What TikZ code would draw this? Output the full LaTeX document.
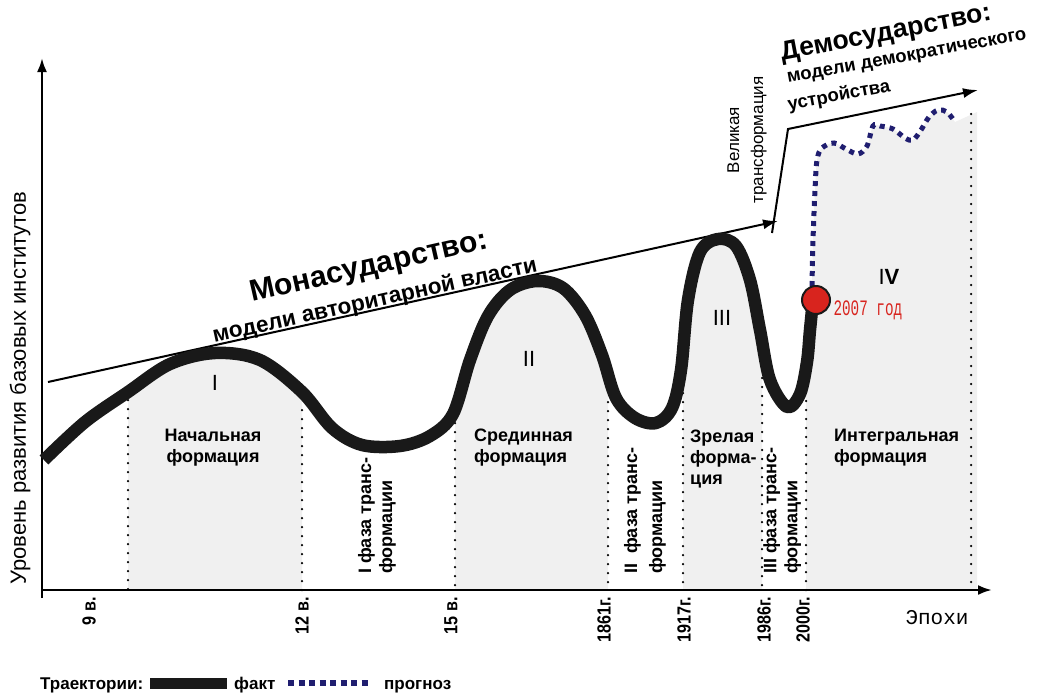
\documentclass[tikz,border=0pt]{standalone}
\usepackage{fontspec}
\setmainfont{Liberation Sans}
\newfontfamily\courfont{Liberation Mono}
\newfontfamily\yearfont[FakeStretch=0.65]{Liberation Mono}
\newfontfamily\narrowfont[FakeStretch=0.85]{Liberation Sans}
\usetikzlibrary{arrows.meta}

\definecolor{navy}{RGB}{32,30,112}
\definecolor{dotred}{RGB}{216,36,30}
\definecolor{formgray}{RGB}{240,240,240}
\newcommand{\sz}[2]{\fontsize{#1}{#2}\selectfont}
% trajectories
\newcommand{\factcurve}{-- plot[smooth, tension=0.55] coordinates {(44,460) (85,422) (128,392) (170,364) (215,353) (260,360) (302,392) (332,428) (362,445) (400,446) (430,436) (453,414) (470,360) (488,316) (510,290) (537,281) (563,288) (585,315) (602,355) (616,398) (635,418) (656,423) (672,408) (681,370) (688,300) (700,252) (718,239) (736,246) (750,280) (760,330) (770,380) (787,407) (800,394) (807,362) (810,330) (813,300)}}
\newcommand{\prognozcurve}{-- plot[smooth, tension=0.55] coordinates {(812,286) (813,240) (815,190) (817,160) (822,148) (834,143) (846,149) (858,154) (867,146) (873,126) (880,126) (893,129) (905,138) (913,140) (921,130) (929,117) (938,110) (947,112) (955,122)}}

\begin{document}
\begin{tikzpicture}[x=1pt, y=-1pt,
    axis/.style={line width=2.5pt, -{Latex[length=14pt,width=10pt]}},
    trend/.style={line width=2pt, -{Latex[length=15pt,width=10pt]}},
    fact/.style={line width=12.5pt, line cap=butt, line join=round, black!90},
    prognoz/.style={line width=5pt, dash pattern=on 5pt off 5pt, navy},
    epoch/.style={line width=2.5pt, line cap=round, dash pattern=on 0pt off 9pt},
    formation/.style={font=\bfseries\sz{18}{21}, inner sep=0pt},
    phase/.style={formation, rotate=90, align=left, anchor=north west},
    tick/.style={font=\narrowfont\bfseries\sz{19}{20}, rotate=90, anchor=east, inner sep=0pt},
    numeral/.style={font=\sz{22}{24}, inner sep=0pt},
    legendtext/.style={font=\bfseries\sz{17}{20}, anchor=base west, inner sep=0pt}
]
    \useasboundingbox (0,0) rectangle (1042,694);

    % shaded formations
    \begin{scope}
        \clip (128,0) rectangle (302,590) (455,0) rectangle (608,590) (683,0) rectangle (762,590);
        \fill[formgray] (44,590) \factcurve -- (813,590) -- cycle;
    \end{scope}
    \fill[formgray] (806,590) -- (806,310) \prognozcurve -- (977,112) -- (977,590) -- cycle;

    % epoch boundaries
    \draw[epoch] (128,400) -- (128,590);
    \draw[epoch] (302,410) -- (302,590);
    \draw[epoch] (455,414) -- (455,590);
    \draw[epoch] (608,402) -- (608,590);
    \draw[epoch] (683,393) -- (683,590);
    \draw[epoch] (762,378) -- (762,590);
    \draw[epoch] (806,392) -- (806,590);
    \draw[epoch] (971,114) -- (971,590);

    % axes
    \coordinate (origin) at (42,590);
    \coordinate (ybottom) at (42,598);
    \coordinate (ytop) at (42,58);
    \coordinate (xend) at (992,590);
    \draw[axis] (ybottom) -- (ytop);
    \draw[axis] (origin) -- (xend);

    % trends
    \coordinate (mono-start) at (48,382);
    \coordinate (mono-end) at (778,221);
    \coordinate (demo-start) at (772,233);
    \coordinate (demo-bend) at (788,129);
    \coordinate (demo-end) at (978,90);
    \draw[trend] (mono-start) -- (mono-end);
    \draw[trend] (demo-start) -- (demo-bend) -- (demo-end);

    % trajectories
    \draw[fact] (44,460) \factcurve;
    \draw[prognoz] (812,286) \prognozcurve;
    \node[circle, fill=dotred, draw=black!90, line width=2pt, minimum size=28pt, inner sep=0pt] (now) at (816,300) {};
    \node[anchor=west, text=dotred, font=\yearfont\sz{22}{24}] (nowlabel) at (830,310) {2007 год};

    % numerals
    \node[numeral] (n1) at (215,383) {I};
    \node[numeral] (n2) at (529,359) {II};
    \node[numeral] (n3) at (722,318) {III};
    \node[numeral] (n4) at (889,277) {I\textbf{V}};

    % formations and phases
    \node[formation, align=center] (f1) at (213,448) {Начальная\\формация};
    \node[formation, align=left, anchor=west] (f2) at (474,448) {Срединная\\формация};
    \node[formation, align=left, anchor=west] (f3) at (690,459) {Зрелая\\форма-\\ция};
    \node[formation, align=left, anchor=west] (f4) at (834,448) {Интегральная\\формация};
    \node[phase] (p1) at (358,574) {I фаза транс-\\формации};
    \node[phase, font=\bfseries\sz{18}{25}] (p2) at (624,574) {II\ \ фаза транс-\\формации};
    \node[phase] (p3) at (763,574) {III фаза транс-\\формации};

    % epochs
    \node[tick] (t1) at (89,597) {9 в.};
    \node[tick] (t2) at (302,597) {12 в.};
    \node[tick] (t3) at (451,597) {15 в.};
    \node[tick] (t4) at (604,597) {1861г.};
    \node[tick] (t5) at (684,597) {1917г.};
    \node[tick] (t6) at (764,597) {1986г.};
    \node[tick] (t7) at (803,597) {2000г.};
    \node[font=\courfont\sz{21}{24}] (xlabel) at (937,618) {Эпохи};
    \node[rotate=90, font=\sz{22}{24}] (ylabel) at (20,388) {Уровень развития базовых институтов};

    % trend labels
    \node[rotate=12.8, font=\bfseries\sz{30}{32}] (mono) at (369,268) {Монасударство:};
    \node[rotate=12.4, font=\bfseries\sz{22.5}{26}] (monosub) at (375,301) {модели авторитарной власти};
    \node[rotate=10.8, font=\bfseries\sz{26.5}{28}] (demo) at (886,34) {Демосударство:};
    \node[rotate=10.3, font=\bfseries\sz{18.5}{20}] (demosub) at (907,58) {модели демократического};
    \node[rotate=10.5, font=\bfseries\sz{18.5}{20}] (demosub2) at (839,96) {устройства};
    \node[rotate=90, align=center, font=\sz{17}{24}] (great) at (747,140) {Великая\\трансформация};

    % legend
    \node[legendtext] (legend) at (40,689) {Траектории:};
    \coordinate (bar-start) at (150,683);
    \coordinate (bar-end) at (227,683);
    \draw[line width=11pt, black!90] (bar-start) -- (bar-end);
    \node[legendtext] (factlabel) at (234,689) {факт};
    \coordinate (dash-start) at (288,683);
    \coordinate (dash-end) at (372,683);
    \draw[prognoz, line width=6pt, dash pattern=on 6pt off 4.5pt] (dash-start) -- (dash-end);
    \node[legendtext] (proglabel) at (384,689) {прогноз};
\end{tikzpicture}
\end{document}
